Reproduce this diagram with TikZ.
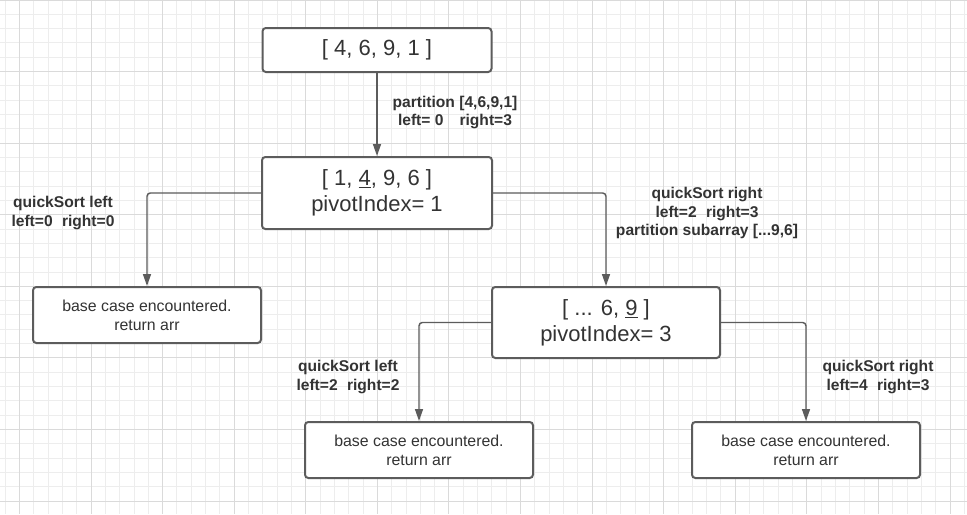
\documentclass[tikz,border=0pt]{standalone}
\usepackage{fontspec}
\setmainfont{Liberation Sans}
\usetikzlibrary{arrows.meta}

\definecolor{gridthin}{HTML}{EDEDED}
\definecolor{gridthick}{HTML}{DADADA}
\definecolor{edge}{HTML}{5C5C5C}
\definecolor{txt}{HTML}{333333}

\begin{document}
\begin{tikzpicture}[x=0.75pt,y=-0.75pt,
gridline/.style={draw=gridthin,line width=0.75pt},
gridbold/.style={draw=gridthick,line width=0.75pt},
box/.style={draw=edge,line width=1.5pt,rounded corners=2.5pt,
fill=white,text=txt,align=center,inner sep=0pt},
big/.style={font=\fontsize{16.5}{19.5}\selectfont},
small/.style={font=\fontsize{11.9}{14.2}\selectfont},
lbl/.style={text=txt,align=center,inner sep=0pt,
font=\fontsize{11.7}{14.2}\selectfont\bfseries},
link/.style={draw=edge,line width=1.1pt,rounded corners=2.5pt,
-{Triangle[length=9pt,width=6pt]}}]
\useasboundingbox (0,0) rectangle (967,514);
\fill[white] (0,0) rectangle (967,514);
\foreach \i in {-1,...,66}
  \draw[gridline] ({19.5+14.316*\i},0) -- ++(0,514);
\foreach \j in {0,...,35}
  \draw[gridline] (0,{14.316*\j}) -- ++(967,0);
\foreach \i in {0,...,13}
  \draw[gridbold] ({19.5+71.58*\i},0) -- ++(0,514);
\foreach \j in {0,...,7}
  \draw[gridbold] (0,{71.58*\j}) -- ++(967,0);

\node[box,big,minimum width=171.75pt,minimum height=33pt] (arr0) at (377,50) {[ 4, 6, 9, 1 ]};
\node[box,big,minimum width=172.5pt,minimum height=54pt] (arr1) at (377,193) {[ 1, \underline{4}, 9, 6 ]\\pivotIndex= 1};
\node[box,small,minimum width=171pt,minimum height=42pt] (baseL) at (147,315) {base case encountered.\\return arr};
\node[box,big,minimum width=171pt,minimum height=53.25pt] (arr2) at (606,322.5) {[ ... 6, \underline{9} ]\\pivotIndex= 3};
\node[box,small,minimum width=171pt,minimum height=42pt] (baseM) at (419,450) {base case encountered.\\return arr};
\node[box,small,minimum width=171pt,minimum height=42pt] (baseR) at (806,450) {base case encountered.\\return arr};

\node[lbl] (partLbl) at (455,112.5) {partition [4,6,9,1]\\left= 0\hspace{12pt}right=3};
\node[lbl] (leftLbl) at (63,213) {quickSort left\\left=0\hspace{7pt}right=0};
\node[lbl] (rightLbl) at (707,213) {quickSort right\\left=2\hspace{7pt}right=3\\partition subarray [...9,6]};
\node[lbl] (leftLblB) at (348,376.7) {quickSort left\\left=2\hspace{7pt}right=2};
\node[lbl] (rightLblB) at (878,376.7) {quickSort right\\left=4\hspace{7pt}right=3};

\draw[link] (arr0) -- (arr1);
\draw[link] (arr1.west) -| (baseL.north);
\draw[link] (arr1.east) -| (arr2.north);
\draw[link] (arr2.west) -| (baseM.north);
\draw[link] (arr2.east) -| (baseR.north);
\end{tikzpicture}
\end{document}
